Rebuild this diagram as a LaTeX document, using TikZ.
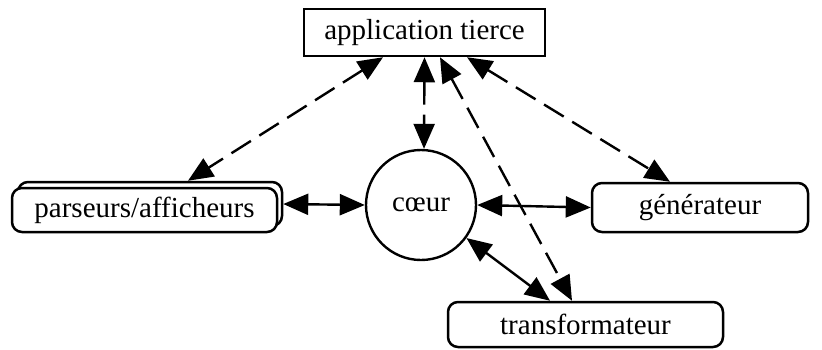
\documentclass[tikz,border=0pt]{standalone}
\usepackage{fontspec}
\setmainfont{Liberation Serif}
\usetikzlibrary{arrows.meta}
\begin{document}
\begin{tikzpicture}[x=0.5pt, y=-0.5pt,
  every node/.style={font=\fontsize{14.5}{17}\selectfont, inner sep=0pt},
  sqbox/.style={draw, line width=1.25pt, fill=white, minimum width=120.5pt, minimum height=23.5pt},
  rbox/.style={draw, line width=1.25pt, fill=white, rounded corners=5pt},
  ring/.style={draw, line width=1.2pt, circle, minimum size=55pt},
  link/.style={line width=1.2pt,
    {Triangle[length=12.5pt, width=10.5pt]}-{Triangle[length=12.5pt, width=10.5pt]}},
  dlink/.style={link, dash pattern=on 11.5pt off 5pt}]
  \useasboundingbox (0,0) rectangle (822,349);

  % components
  \node[sqbox] (app) at (424.5,32.5) {application tierce};
  \node[ring] (coeur) at (421,205) {cœur};
  \node[rbox, minimum width=132pt, minimum height=22pt] (pb) at (150,204) {};
  \node[rbox, minimum width=132.5pt, minimum height=22pt] (pf) at (144.5,210) {parseurs/afficheurs};
  \node[rbox, minimum width=108pt, minimum height=24.5pt] (gen) at (700,207.5) {générateur};
  \node[rbox, minimum width=137.5pt, minimum height=22.5pt] (tr) at (585.5,324.5) {transformateur};

  % links with the core
  \draw[link] (pb.east) -- (coeur.west);
  \draw[link] (coeur.east) -- (gen.west);
  \draw[link] (coeur.-36) -- ([xshift=-17.75pt]tr.north);

  % links with the third-party application
  \draw[dlink] (app.south) -- ([xshift=1.5pt]coeur.north);
  \draw[dlink] ([xshift=-20.75pt]app.south) -- ([xshift=19pt]pb.north);
  \draw[dlink] ([xshift=21.25pt]app.south) -- ([xshift=-15pt]gen.north);
  \draw[dlink] ([xshift=7.75pt]app.south) -- ([xshift=-6.75pt]tr.north);
\end{tikzpicture}
\end{document}
